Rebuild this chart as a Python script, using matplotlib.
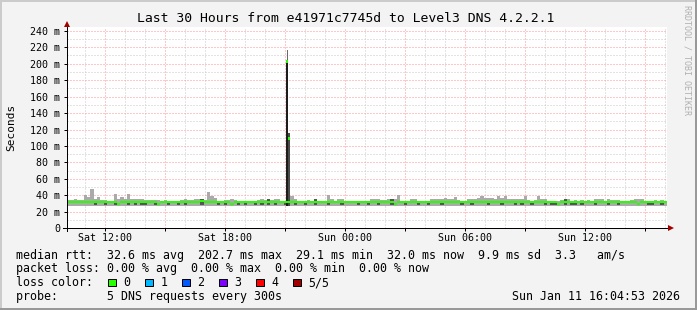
import datetime as dt
import matplotlib
matplotlib.use("Agg")
import matplotlib.pyplot as plt
import matplotlib.dates as mdates
from matplotlib.patches import Rectangle
from matplotlib.ticker import MultipleLocator, FuncFormatter

# smokeping graph: last 30 hours, one value every 10 minutes
end_time = dt.datetime(2026, 1, 11, 16, 4, 53)
start_time = end_time - dt.timedelta(hours=30)
step_min = 10

# top of the smoke (slowest ping), ms
smoke_high = [
    34, 34, 36, 35, 34, 40, 38, 48, 36, 38, 34, 34,
    33, 33, 42, 36, 38, 36, 42, 36, 36, 36, 36, 34,
    34, 34, 34, 34, 33, 34, 33, 33, 33, 33, 34, 36,
    34, 34, 36, 36, 36, 34, 44, 39, 37, 33, 33, 34,
    34, 36, 34, 33, 33, 33, 33, 33, 33, 34, 36, 34,
    36, 34, 36, 36, 33, 33, 33, 39, 36, 33, 33, 33,
    35, 33, 36, 33, 33, 33, 40, 36, 33, 36, 36, 33,
    33, 33, 33, 33, 33, 33, 33, 36, 36, 36, 34, 34,
    36, 36, 36, 40, 33, 33, 33, 36, 36, 33, 33, 33,
    33, 36, 36, 36, 36, 37, 36, 36, 38, 35, 33, 33,
    36, 36, 36, 37, 39, 37, 37, 37, 36, 39, 37, 39,
    36, 36, 36, 36, 36, 39, 34, 33, 34, 39, 36, 36,
    33, 33, 33, 33, 34, 36, 36, 33, 34, 33, 34, 33,
    34, 33, 36, 36, 36, 33, 36, 34, 34, 34, 33, 33,
    33, 34, 36, 36, 36, 33, 33, 33, 34, 33, 34, 33,
]
# median rtt, ms
median_rtt = [
    32, 32, 32, 32, 32, 32, 32, 32, 32, 32, 32, 32,
    32, 32, 32, 29.5, 32, 32, 32, 32, 32, 32, 32, 32,
    32, 32, 32, 29.5, 32, 32, 32, 32, 32, 32, 32, 32,
    32, 32, 32, 32, 33.5, 32, 32, 32, 32, 32, 32, 32,
    32, 29.5, 32, 32, 32, 32, 32, 32, 32, 32, 32, 32,
    32, 32, 32, 32, 32, 32, 32, 32, 32, 32, 32, 32,
    32, 32, 32, 32, 32, 32, 32, 32, 32, 32, 32, 32,
    32, 32, 32, 32, 32, 32, 32, 32, 32, 32, 32, 32,
    32, 32, 29.5, 32, 32, 32, 32, 32, 32, 32, 32, 32,
    32, 32, 32, 32, 32, 32, 32, 32, 32, 32, 32, 32,
    32, 32, 32, 32, 32, 32, 32, 32, 32, 32, 32, 32,
    32, 32, 32, 32, 32, 32, 32, 32, 32, 32, 32, 32,
    32, 32, 32, 29.5, 32, 32, 32, 32, 32, 32, 32, 32,
    32, 32, 32, 32, 32, 32, 32, 32, 32, 32, 32, 32,
    32, 32, 32, 29.5, 32, 32, 32, 32, 32, 32, 32, 32,
]
smoke_low = 27.6  # fastest ping sits flat here

# darker inner smoke patches
dark_steps = [8, 11, 14, 18, 20, 22, 23, 26, 27, 30, 33, 35, 40, 45, 47, 49, 51,
              53, 56, 58, 60, 62, 65, 68, 71, 74, 78, 82, 87, 90, 93, 97, 98, 101,
              105, 108, 112, 118, 121, 126, 130, 134, 136, 139, 143, 145, 146, 149,
              151, 152, 154, 158, 162, 165, 174, 175, 178]
dark_top = [31, 31, 31, 31, 31, 31, 31, 31, 31, 31, 31, 31, 36, 31, 31, 31, 31,
            31, 31, 31, 36, 31, 31, 31, 31, 36, 31, 31, 31, 31, 31, 36, 31, 31,
            31, 31, 31, 31, 31, 31, 31, 31, 31, 31, 31, 31, 31, 36,
            31, 31, 31, 31, 31, 31, 31, 31, 31]
dark_low = 28.3

# the big spike around Sat 21:00
spike_times = ["2026-01-10 21:01", "2026-01-10 21:07"]
spike_step_min = 6
spike_median = [202.7, 109.0]
spike_max = [217.0, 116.0]

loss_labels = ["0", "1", "2", "3", "4", "5/5"]
loss_colors = ["#26ff00", "#00b8ff", "#0059ff", "#7e00ff", "#ff0000", "#a00000"]

legend_lines = [
    "median rtt:  32.6 ms avg  202.7 ms max  29.1 ms min  32.0 ms now  9.9 ms sd  3.3   am/s",
    "packet loss: 0.00 % avg  0.00 % max  0.00 % min  0.00 % now",
    "loss color:",
    "probe:       5 DNS requests every 300s",
]

W, H = 697, 310
mono = "DejaVu Sans Mono"
plt.rcParams["font.family"] = mono

fig = plt.figure(figsize=(W / 100, H / 100), dpi=100, facecolor="#f3f3f3")
ax = fig.add_axes([67 / W, (H - 228.3) / H, 600 / W, 201.6 / H])
ax.set_facecolor("white")

day = 1 / 1440.0
x_steps = [mdates.date2num(start_time + dt.timedelta(minutes=step_min * i))
           for i in range(len(smoke_high))]
w = step_min * day
sw = spike_step_min * day
crisp = dict(align="edge", linewidth=0, antialiased=False)

# light smoke
ax.bar(x_steps, [h - smoke_low for h in smoke_high], bottom=smoke_low, width=w,
       color="#aaaaaa", zorder=2, **crisp)
# darker inner smoke
ax.bar([x_steps[i] for i in dark_steps], [t - dark_low for t in dark_top],
       bottom=dark_low, width=w, color="#555555", zorder=3, **crisp)

# spike
sx = [mdates.date2num(dt.datetime.fromisoformat(t)) for t in spike_times]
ax.bar(sx[0], spike_median[0] - smoke_low, bottom=smoke_low, width=sw,
       color="#1c1c1c", zorder=4, **crisp)
ax.bar(sx[0] + sw / 2, spike_max[0] - spike_median[0], bottom=spike_median[0],
       width=sw / 2, color="#6a6a6a", zorder=4, **crisp)
ax.bar(sx[1], spike_max[1] - smoke_low, bottom=smoke_low, width=sw,
       color="#4a4a4a", zorder=4, **crisp)

# median drawn as a thin band per step
thick = 3.0
ax.bar(x_steps, thick, bottom=[m - thick / 2 for m in median_rtt], width=w,
       color="#26ff00", zorder=5, **crisp)
ax.bar(sx, thick, bottom=[m - thick / 2 for m in spike_median], width=sw,
       color="#26ff00", zorder=5, **crisp)

ax.set_xlim(mdates.date2num(start_time), mdates.date2num(end_time))
ax.set_ylim(0, 245)

ax.xaxis.set_major_locator(mdates.HourLocator(byhour=range(0, 24, 3)))
ax.xaxis.set_minor_locator(mdates.HourLocator())
ax.xaxis.set_major_formatter(FuncFormatter(
    lambda v, p: mdates.num2date(v).strftime("%a %H:%M")
    if mdates.num2date(v).hour % 6 == 0 else ""))
ax.yaxis.set_major_locator(MultipleLocator(20))
ax.yaxis.set_minor_locator(MultipleLocator(10))
ax.yaxis.set_major_formatter(FuncFormatter(lambda v, p: f"{int(v)} m" if v else "0"))

ax.set_axisbelow(True)
ax.grid(which="minor", color="#c8c8c8", linestyle=(0, (1, 2)), linewidth=0.72)
ax.grid(which="major", color="#ff9090", linestyle=(0, (1, 2)), linewidth=0.72)

ax.tick_params(which="major", direction="out", length=2.2, width=0.72,
               labelsize=7.2, pad=1.2)
ax.tick_params(axis="y", which="major", pad=2.9)
ax.tick_params(which="minor", length=0)
for s in ax.spines.values():
    s.set_visible(False)

# axes with arrows
ax.plot([0, 0], [-3 / 201.6, 1 + 2 / 201.6], color="black", lw=0.72,
        transform=ax.transAxes, clip_on=False, zorder=6)
ax.plot([-4 / 600, 1 + 3 / 600], [0, 0], color="black", lw=0.72,
        transform=ax.transAxes, clip_on=False, zorder=6)
ax.plot([0], [1 + 2.7 / 201.6], marker="^", ms=4.5, color="#a00000", mew=0,
        transform=ax.transAxes, clip_on=False, zorder=7)
ax.plot([1 + 4 / 600], [0], marker=">", ms=4.5, color="#a00000", mew=0,
        transform=ax.transAxes, clip_on=False, zorder=7)

# texts
fig.text(346 / W, 1 - 19 / H, "Last 30 Hours from e41971c7745d to Level3 DNS 4.2.2.1",
         ha="center", va="center", fontsize=9.45)
fig.text(11 / W, 1 - 127 / H, "Seconds", rotation=90, ha="center", va="center",
         fontsize=8.0)
fig.text(687 / W, 1 - 60 / H, "RRDTOOL / TOBI OETIKER", rotation=270, ha="center",
         va="center", fontsize=6.0, color="#b0b0b0")

base = [258.5, 272.3, 286.1, 299.9]
for line, yb in zip(legend_lines, base):
    fig.text(16.4 / W, 1 - yb / H, line, ha="left", va="baseline", fontsize=8.4)
fig.text(680 / W, 1 - base[3] / H, "Sun Jan 11 16:04:53 2026", ha="right",
         va="baseline", fontsize=8.4)

for k, (lab, col) in enumerate(zip(loss_labels, loss_colors)):
    bx = 108.4 + k * 36.95
    fig.patches.append(Rectangle((bx / W, 1 - 286.3 / H), 8 / W, 7.5 / H,
                                 transform=fig.transFigure, facecolor=col,
                                 edgecolor="black", linewidth=0.72))
    fig.text((bx + 15.2) / W, 1 - base[2] / H, lab, ha="left", va="baseline",
             fontsize=8.4)

# rrdtool style shaded frame
for (x0, y0, ww, hh, c) in [(0, H - 2, W, 2, "#cbcbcb"), (0, 0, 2, H, "#cbcbcb"),
                            (0, 0, W, 2, "#999999"), (W - 2, 0, 2, H, "#999999")]:
    fig.patches.append(Rectangle((x0 / W, y0 / H), ww / W, hh / H,
                                 transform=fig.transFigure, facecolor=c,
                                 edgecolor="none"))

fig.savefig("out.png", dpi=100, facecolor=fig.get_facecolor())
